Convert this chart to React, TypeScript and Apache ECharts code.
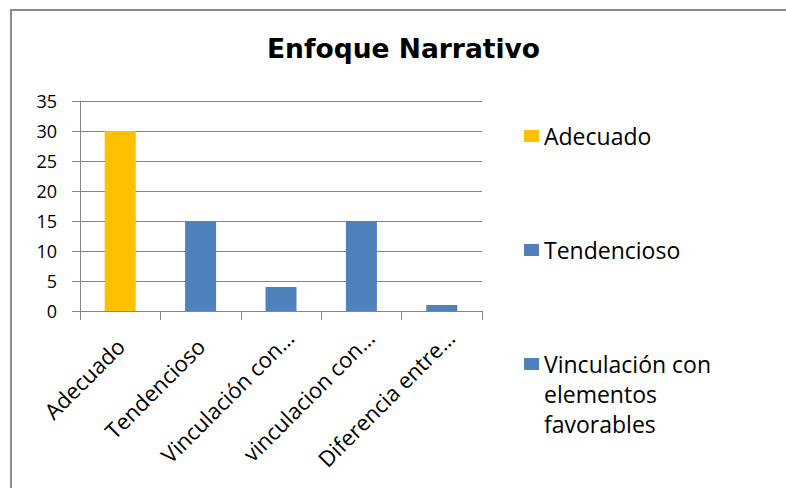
import React, { useEffect, useRef } from "react";
import * as echarts from "echarts";

const titleText = "Enfoque Narrativo";
const categories = ["Adecuado", "Tendencioso", "Vinculación con…", "vinculacion con…", "Diferencia entre…"];
const values = [30, 15, 4, 15, 1];
const barColors = ["#FFC000", "#4F81BD", "#4F81BD", "#4F81BD", "#4F81BD"];
const legendNames = ["Adecuado", "Tendencioso", "Vinculación con elementos favorables"];
const legendColors = ["#FFC000", "#4F81BD", "#4F81BD"];
const yMin = 0;
const yMax = 35;
const yInterval = 5;

const legendTops = [121, 235, 289];

export default function App() {
  const ref = useRef<HTMLDivElement>(null);
  useEffect(() => {
    if (!ref.current) return;
    const chart = echarts.init(ref.current, undefined, { renderer: "svg" });
    const gray = "#868686";
    const font = "Open Sans";
    const labelStyle = { fontFamily: font, fontSize: 22, color: "#000" };
    chart.setOption({
      animation: false,
      backgroundColor: "#ffffff",
      title: {
        text: titleText,
        left: 267,
        top: 35,
        padding: 0,
        textAlign: "left",
        textStyle: { fontFamily: "DejaVu Sans", fontWeight: "bold", fontSize: 26.5, color: "#000" },
      },
      graphic: [
        {
          type: "rect",
          silent: true,
          shape: { x: 11, y: 10, width: 900, height: 600 },
          style: { fill: "none", stroke: "#8c8c8c", lineWidth: 2 },
        },
      ],
      legend: legendNames.map((n, i) => ({
        data: [n],
        orient: "vertical",
        left: 524,
        top: legendTops[i],
        padding: 0,
        itemWidth: 15,
        itemHeight: 12,
        icon: "rect",
        selectedMode: false,
        textStyle: {
          fontFamily: font,
          fontSize: 23,
          color: "#000",
          lineHeight: 30,
          width: 200,
          overflow: "break",
          padding: i === 2 ? [60, 0, 0, 0] : 0,
          rich: { r: { fontFamily: font, fontSize: 23, color: "#000" } },
        },
      })),
      grid: { left: 80, right: 304, top: 101, bottom: 177 },
      xAxis: {
        type: "category",
        data: categories,
        axisLine: { lineStyle: { color: gray, width: 1 } },
        axisTick: { show: true, length: 9, interval: 0, lineStyle: { color: gray } },
        axisLabel: {
          interval: 0,
          rotate: 45,
          margin: 31,
          ...labelStyle,
          formatter: (v: string) => (v.endsWith("…") ? `{t|${v}}` : `{f|${v}}`),
          rich: {
            f: { ...labelStyle },
            t: { ...labelStyle, padding: [0, -12, 0, 0] },
          },
        },
      },
      yAxis: {
        type: "value",
        min: yMin,
        max: yMax,
        interval: yInterval,
        axisLine: { show: true, lineStyle: { color: gray } },
        axisTick: { show: true, length: 8, lineStyle: { color: gray } },
        splitLine: { lineStyle: { color: gray } },
        axisLabel: { margin: 23, fontFamily: font, fontSize: 18, color: "#000" },
      },
      series: [
        {
          type: "bar",
          name: titleText,
          stack: "all",
          barWidth: 31,
          data: values.map((v, i) => ({ value: v, itemStyle: { color: barColors[i] } })),
        },
        ...legendNames.map((n, i) => ({
          type: "bar",
          name: n,
          stack: "all",
          data: [],
          itemStyle: { color: legendColors[i] },
        })),
      ],
    });
    return () => chart.dispose();
  }, []);
  return (
    <div
      ref={ref}
      style={{ position: "absolute", left: 0, top: 0, width: 786, height: 488 }}
    />
  );
}
